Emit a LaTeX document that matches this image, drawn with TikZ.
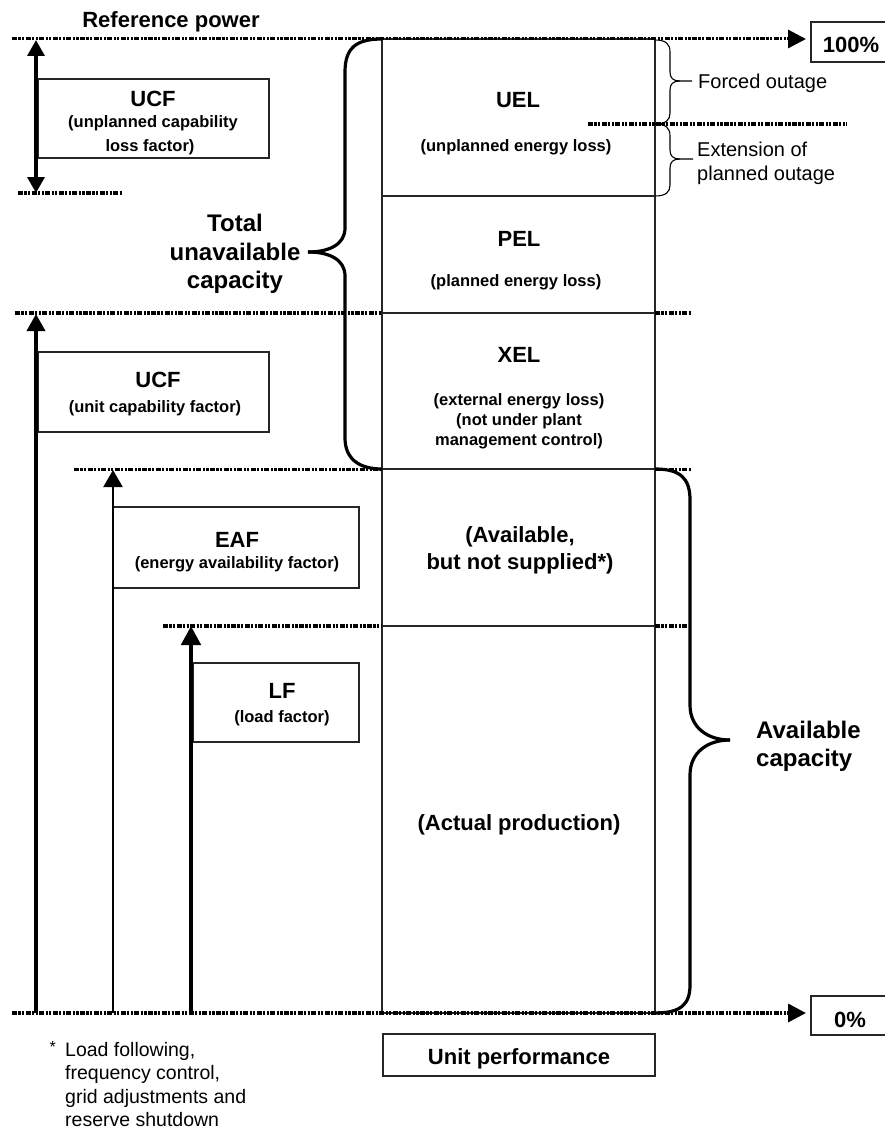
\documentclass[tikz,border=0pt]{standalone}
\usepackage{fontspec}
\setmainfont{Liberation Sans}
\usetikzlibrary{arrows.meta}
\begin{document}
\begin{tikzpicture}[x=1pt,y=-1pt,
 box/.style={draw=black!85, line width=1.3pt, inner sep=0pt},
 colbox/.style={draw=black!85, line width=1.2pt, inner sep=0pt, minimum width=273pt},
 dotl/.style={line width=3.4pt, dash pattern=on 5pt off 1.4pt on 2.2pt off 1.4pt on 2.2pt off 1.4pt},
 brace/.style={line width=3.2pt, line join=round},
 sbrace/.style={line width=1.1pt},
 bigtip/.style={-{Triangle[width=18pt,length=18pt]}},
 lbl/.style={font=\fontsize{22}{26}\selectfont\bfseries, anchor=base, inner sep=0pt},
 sub/.style={font=\fontsize{16.5}{20}\selectfont\bfseries, anchor=base, inner sep=0pt},
 big/.style={font=\fontsize{24}{29}\selectfont\bfseries, anchor=base, inner sep=0pt},
 bigw/.style={font=\fontsize{24}{29}\selectfont\bfseries, anchor=base west, inner sep=0pt},
 reg/.style={font=\fontsize{20}{25}\selectfont, anchor=base west, inner sep=0pt},
 foot/.style={font=\fontsize{19.5}{23}\selectfont, anchor=base west, inner sep=0pt},
]
\useasboundingbox (0,0) rectangle (884,1129);

% column boxes
\node[colbox, minimum height=157pt] (uelbox) at (518.5,117.5) {};
\node[colbox, minimum height=117pt] (pelbox) at (518.5,254.5) {};
\node[colbox, minimum height=156pt] (xelbox) at (518.5,391) {};
\node[colbox, minimum height=157pt] (avbox) at (518.5,547.5) {};
\node[colbox, minimum height=387pt] (actbox) at (518.5,819.5) {};

% left boxes
\node[box, minimum width=231pt, minimum height=79pt] (ucfa) at (153.5,118.5) {};
\node[box, minimum width=231pt, minimum height=80pt] (ucfb) at (153.5,392) {};
\node[box, minimum width=246pt, minimum height=81pt] (eafbox) at (236,547.5) {};
\node[box, minimum width=166pt, minimum height=79pt] (lfbox) at (276,702.5) {};
\node[box, minimum width=272pt, minimum height=42pt] (upbox) at (519,1055) {};
\node[box, minimum width=79pt, minimum height=40pt] (p100) at (850.5,42) {};
\node[box, minimum width=79pt, minimum height=39pt] (p0) at (850.5,1015.5) {};

% dotted level lines
\coordinate (t0) at (12,39);   \coordinate (t1) at (806,39);
\coordinate (b0) at (12,1013); \coordinate (b1) at (806,1013);
\draw[dotl, line width=3pt, bigtip] (t0) -- (t1);
\draw[dotl, bigtip] (b0) -- (b1);
\coordinate (l1a) at (18,193);  \coordinate (l1b) at (123,193);
\draw[dotl] (l1a) -- (l1b);
\coordinate (l2a) at (15,313);  \coordinate (l2b) at (382,313);
\coordinate (l2c) at (655,313); \coordinate (l2d) at (691,313);
\draw[dotl] (l2a) -- (l2b); \draw[dotl] (l2c) -- (l2d);
\coordinate (l3a) at (74,469);  \coordinate (l3b) at (382,469);
\coordinate (l3c) at (655,469); \coordinate (l3d) at (692,469);
\draw[dotl, line width=3pt] (l3a) -- (l3b); \draw[dotl, line width=3pt] (l3c) -- (l3d);
\coordinate (l4a) at (163,626);  \coordinate (l4b) at (382,626);
\coordinate (l4c) at (655,626); \coordinate (l4d) at (689,626);
\draw[dotl] (l4a) -- (l4b); \draw[dotl] (l4c) -- (l4d);
\coordinate (fa) at (588,124); \coordinate (fb) at (847,124);
\draw[dotl] (fa) -- (fb);

% vertical arrows
\coordinate (ua) at (36,40); \coordinate (ub) at (36,193);
\draw[line width=3.4pt, {Triangle[width=17pt,length=16pt]}-{Triangle[width=17pt,length=16pt]}] (ua) -- (ub);
\coordinate (u2a) at (36,1013); \coordinate (u2b) at (36,314);
\draw[line width=3.6pt, -{Triangle[width=18pt,length=17pt]}] (u2a) -- (u2b);
\coordinate (ea) at (113,1013); \coordinate (eb) at (113,470);
\draw[line width=2.2pt, -{Triangle[width=19pt,length=17pt]}] (ea) -- (eb);
\coordinate (la) at (191,1013); \coordinate (lb) at (191,626);
\draw[line width=4.8pt, -{Triangle[width=19pt,length=19pt]}] (la) -- (lb);

% big braces
\draw[brace] (382,39) .. controls (356,39) and (345,48) .. (345,72) -- (345,228)
  .. controls (345,244) and (330,252) .. (308,252);
\draw[brace] (308,252) .. controls (330,252) and (345,260) .. (345,276) -- (345,438)
  .. controls (345,458) and (358,469) .. (382,469);
\draw[brace] (655,469) .. controls (680,469) and (690,478) .. (690,500) -- (690,705)
  .. controls (690,728) and (708,740) .. (730,740);
\draw[brace] (730,740) .. controls (708,740) and (690,752) .. (690,775) -- (690,985)
  .. controls (690,1005) and (680,1013) .. (655,1013);

% small braces
\draw[sbrace] (655,40) .. controls (666,40) and (670,44) .. (670,52) -- (670,72)
  .. controls (670,78) and (673,81) .. (680,81) -- (692,81);
\draw[sbrace] (680,81) .. controls (673,81) and (670,84) .. (670,90) -- (670,113)
  .. controls (670,120) and (666,124) .. (655,124);
\draw[sbrace] (655,124) .. controls (666,124) and (670,128) .. (670,136) -- (670,150)
  .. controls (670,156) and (673,159) .. (680,159) -- (693,159);
\draw[sbrace] (680,159) .. controls (673,159) and (670,162) .. (670,168) -- (670,185)
  .. controls (670,192) and (666,196) .. (655,196);

% texts
\node[lbl] (refp) at (171,28) {Reference power};
\node[lbl] (t100) at (851,53) {100\%};
\node[lbl] (t0p) at (850,1027) {0\%};

\node[lbl] (uel) at (518,108) {UEL};
\node[sub] (uels) at (516,151) {(unplanned energy loss)};
\node[lbl] (pel) at (519,246) {PEL};
\node[sub] (pels) at (516,286) {(planned energy loss)};
\node[lbl] (xel) at (519,362) {XEL};
\node[sub] (xels1) at (519,405) {(external energy loss)};
\node[sub] (xels2) at (519,425) {(not under plant};
\node[sub] (xels3) at (519,445) {management control)};
\node[lbl] (av1) at (520,542) {(Available,};
\node[lbl] (av2) at (520,569) {but not supplied*)};
\node[lbl] (act) at (519,830) {(Actual production)};

\node[lbl] (ucf1) at (153,107) {UCF};
\node[sub] (ucf1s1) at (153,128) {(unplanned capability};
\node[sub] (ucf1s2) at (150,151) {loss factor)};
\node[lbl] (ucf2) at (158,387) {UCF};
\node[sub] (ucf2s) at (155,412) {(unit capability factor)};
\node[lbl] (eaf) at (237,547) {EAF};
\node[sub] (eafs) at (237,568) {(energy availability factor)};
\node[lbl] (lf) at (282,698) {LF};
\node[sub] (lfs) at (282,722) {(load factor)};

\node[big] (tot1) at (235,231) {Total};
\node[big] (tot2) at (235,260) {unavailable};
\node[big] (tot3) at (235,288) {capacity};
\node[bigw] (avc1) at (756,738) {Available};
\node[bigw] (avc2) at (756,766) {capacity};

\node[reg] (fo) at (698,89) {Forced outage};
\node[reg] (ext1) at (697,157) {Extension of};
\node[reg] (ext2) at (697,180) {planned outage};

\node[lbl] (up) at (519,1064) {Unit performance};

\node[foot, anchor=base east, font=\fontsize{16}{20}\selectfont] (ast) at (56,1052) {*};
\node[foot] (ft1) at (65,1056) {Load following,};
\node[foot] (ft2) at (65,1079) {frequency control,};
\node[foot] (ft3) at (65,1103) {grid adjustments and};
\node[foot] (ft4) at (65,1126) {reserve shutdown};
\end{tikzpicture}
\end{document}
